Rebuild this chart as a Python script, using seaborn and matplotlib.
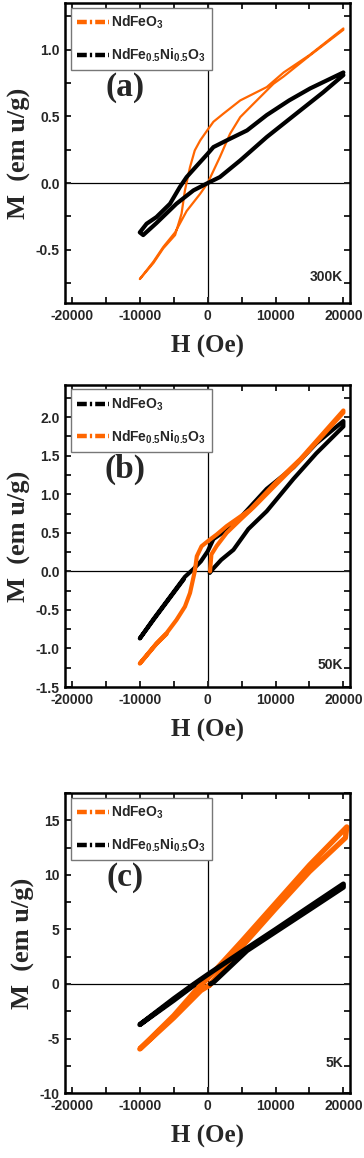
import numpy as np
import pandas as pd
import matplotlib
matplotlib.use("Agg")
import matplotlib.pyplot as plt
from matplotlib.lines import Line2D
from matplotlib.ticker import MultipleLocator
import seaborn as sns

# ---- data (H in Oe, M in emu/g), loops traced point by point ----
# (a) 300K
H_a_nfo = [20000, 15000, 11200, 8700, 6750, 4800, 3300, 2300, 850, 0, -1100, -1900, -2600, -3350, -3850,
           -4800, -6550, -8000, -10000, -8000, -6550, -4800, -3100, -1100, 0, 1800, 3300, 4800, 6750,
           9700, 11200, 15000, 20000]
M_a_nfo = [1.16, 0.96, 0.83, 0.72, 0.67, 0.62, 0.56, 0.52, 0.46, 0.40, 0.32, 0.245, 0.12, -0.055, -0.23,
           -0.39, -0.49, -0.60, -0.72, -0.59, -0.48, -0.37, -0.21, -0.08, 0.0, 0.195, 0.37, 0.495, 0.595,
           0.745, 0.80, 0.955, 1.15]
H_a_ni = [20000, 15100, 12000, 8700, 5800, 2800, 850, 0, -1600, -3100, -4100, -5550, -7550, -9000, -10000,
          -9500, -7550, -4600, -2100, 0, 1800, 4800, 8700, 13650, 17000, 20000]
M_a_ni = [0.83, 0.71, 0.62, 0.51, 0.395, 0.32, 0.27, 0.22, 0.13, 0.045, -0.03, -0.155, -0.255, -0.305, -0.37,
          -0.39, -0.30, -0.155, -0.055, 0.0, 0.045, 0.17, 0.345, 0.545, 0.68, 0.81]

# (b) 50K
H_b_nfo = [300, 850, 2000, 3800, 6000, 8700, 12650, 16000, 20000,
           20000, 16000, 12650, 8700, 3800, 850, 0, -1000, -2100, -3350, -6050, -8000, -10000,
           -8000, -6050, -3500]
M_b_nfo = [-0.02, 0.04, 0.15, 0.28, 0.55, 0.78, 1.2, 1.53, 1.88,
           1.95, 1.66, 1.35, 1.07, 0.6, 0.42, 0.26, 0.13, 0.03, -0.07, -0.39, -0.62, -0.87,
           -0.63, -0.40, -0.10]
H_b_ni = [350, 550, 1330, 2800, 4800, 6750, 10000, 13650, 20000,
          20000, 13650, 10000, 6250, 2800, 1330, 0, -900, -1600, -1900, -2600, -3350, -4600, -6050, -7550, -10000,
          -7550, -6050]
M_b_ni = [0.0, 0.22, 0.33, 0.5, 0.67, 0.83, 1.12, 1.44, 2.06,
          2.087, 1.457, 1.15, 0.80, 0.587, 0.478, 0.39, 0.326, 0.196, 0.0, -0.28, -0.457, -0.63, -0.80, -0.935, -1.196,
          -0.94, -0.81]

# (c) 5K
H_c_nfo = [300, 5000, 10000, 15000, 20300,
           20500, 15000, 10000, 5000, 0, -1130, -5000, -10000,
           -5000, -1000, 300]
M_c_nfo = [-0.1, 3.4, 6.9, 10.3, 13.4,
           14.4, 10.9, 7.4, 3.9, 0.5, -0.15, -2.9, -5.96,
           -3.1, -0.6, -0.1]
H_c_ni = [400, 850, 5800, 10000, 15000, 20000,
          20000, 15000, 10000, 5000, 0, -2000, -5000, -10000,
          -5000, -2000]
M_c_ni = [0.0, 0.15, 3.06, 4.78, 6.82, 8.87,
          9.17, 7.09, 5.0, 2.95, 0.86, 0.0, -1.35, -3.73,
          -1.5, -0.1]

lab_nfo = r"NdFeO$_3$"
lab_ni = r"NdFe$_{0.5}$Ni$_{0.5}$O$_3$"
orange = "#FF6600"
black = "#000000"

sns.set_style("ticks")
plt.rcParams["font.family"] = ["Liberation Sans", "DejaVu Sans"]
plt.rcParams["font.weight"] = "bold"
plt.rcParams["mathtext.fontset"] = "custom"
plt.rcParams["mathtext.rm"] = "Liberation Sans:bold"
plt.rcParams["mathtext.it"] = "Liberation Sans:bold"
plt.rcParams["mathtext.default"] = "rm"
plt.rcParams["axes.unicode_minus"] = False

fig = plt.figure(figsize=(3.64, 11.58), dpi=100)

panels = [
    # rect, series list [(H, M, color, lw, label)], ylim, ymajor, yminor, tag, temp, temp_y
    ([0.179, 0.7383, 0.783, 0.259],
     [(H_a_nfo, M_a_nfo, orange, 1.6, lab_nfo), (H_a_ni, M_a_ni, black, 3.0, lab_ni)],
     (-0.9, 1.35), 0.5, 0.25, "(a)", "300K", 0.087, "%.1f"),
    ([0.179, 0.4067, 0.783, 0.261],
     [(H_b_nfo, M_b_nfo, black, 3.0, lab_nfo), (H_b_ni, M_b_ni, orange, 3.0, lab_ni)],
     (-1.5, 2.42), 0.5, 0.25, "(b)", "50K", 0.073, "%.1f"),
    ([0.179, 0.0561, 0.783, 0.259],
     [(H_c_nfo, M_c_nfo, orange, 3.8, lab_nfo), (H_c_ni, M_c_ni, black, 3.6, lab_ni)],
     (-10, 17.5), 5, 2.5, "(c)", "5K", 0.1, "%d"),
]

for rect, series, ylim, ymaj, ymin, tag, temp, temp_y, fmt in panels:
    ax = fig.add_axes(rect)
    handles = []
    for H, M, col, lw, lab in series:
        df = pd.DataFrame({"H": H, "M": M})
        sns.lineplot(data=df, x="H", y="M", sort=False, estimator=None, color=col,
                     lw=lw, ax=ax, legend=False)
        handles.append(Line2D([0], [0], color=col, lw=3.2, ls=(0, (2.2, 0.7, 0.5, 0.7)), label=lab))
    ax.axhline(0, color="black", lw=0.9, zorder=0)
    ax.axvline(0, color="black", lw=0.9, zorder=0)
    ax.set_xlim(-21000, 21000)
    ax.set_ylim(*ylim)
    ax.xaxis.set_major_locator(MultipleLocator(10000))
    ax.xaxis.set_minor_locator(MultipleLocator(5000))
    ax.yaxis.set_major_locator(MultipleLocator(ymaj))
    ax.yaxis.set_minor_locator(MultipleLocator(ymin))
    ax.yaxis.set_major_formatter(matplotlib.ticker.FormatStrFormatter(fmt))
    ax.tick_params(which="both", direction="in", top=True, right=True, width=1.4)
    ax.tick_params(which="major", length=4, labelsize=10, pad=4)
    ax.tick_params(which="minor", length=4)
    for lbl in ax.get_xticklabels() + ax.get_yticklabels():
        lbl.set_fontweight("bold")
    for sp in ax.spines.values():
        sp.set_linewidth(1.8)
        sp.set_visible(True)
        sp.set_color("black")
    ax.set_xlabel("H (Oe)", fontsize=18, family="Liberation Serif", weight="bold", labelpad=9)
    ax.set_ylabel("M  (em u/g)", fontsize=19, family="Liberation Serif", weight="bold", labelpad=3)
    ax.text(0.21, 0.72, tag, transform=ax.transAxes, fontsize=24, family="Liberation Serif",
            weight="bold", ha="center", va="center")
    ax.text(0.975, temp_y, temp, transform=ax.transAxes, fontsize=10, weight="bold",
            ha="right", va="center")
    leg = ax.legend(handles=handles, loc="upper left", bbox_to_anchor=(0.02, 0.985), borderaxespad=0,
                    fontsize=10, handlelength=2.3, handletextpad=0.15, labelspacing=1.1,
                    borderpad=0.45, fancybox=False, framealpha=1, edgecolor="#777777")
    leg.get_frame().set_linewidth(1.0)

fig.savefig("out.png", dpi=100)
